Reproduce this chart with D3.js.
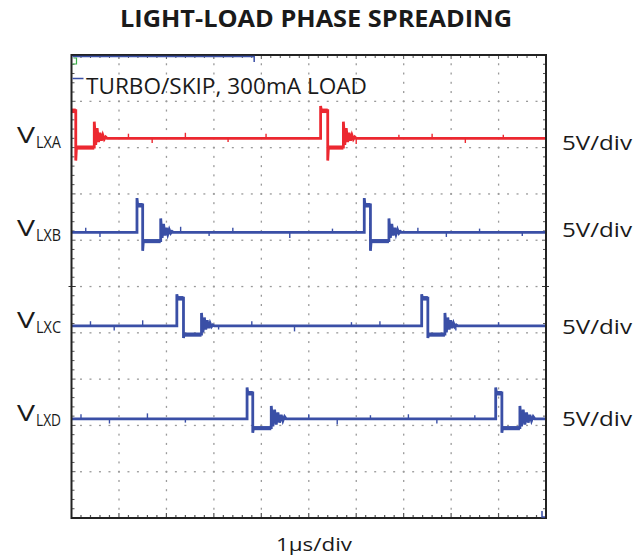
<!DOCTYPE html>
<html><head><meta charset="utf-8">
<script src="https://cdn.jsdelivr.net/npm/d3@7"></script>
<style>
html,body{margin:0;padding:0;background:#fff;}
svg{display:block;font-family:"Open Sans",sans-serif;}
</style></head>
<body><svg id="c" width="635" height="558"></svg>
<script>
// ---- data ----
const title = "LIGHT-LOAD PHASE SPREADING";
const note = "TURBO/SKIP, 300mA LOAD";
const xLabel = "1µs/div";
const channels = ["LXA", "LXB", "LXC", "LXD"];
const scaleLabels = ["5V/div", "5V/div", "5V/div", "5V/div"];
// channel ground offsets (divisions from screen centre)
const offsets = [3.20, 1.17, -0.85, -2.86];
// switching edges (µs)
const riseT = [[-0.07, 5.25], [1.38, 6.17], [2.22, 7.38], [3.70, 8.94]];
const fallT = [[0.09, 5.40], [1.50, 6.30], [2.36, 7.51], [3.82, 9.07]];
const lowEndT = [[0.48, 5.73], [1.88, 6.69], [2.74, 7.87], [4.21, 9.45]];
// levels (V)
const highV = [3.0, 2.95, 3.0, 2.8];
const highPeakV = [3.5, 3.7, 3.4, 3.4];
const lowV = [-0.95, -0.9, -0.9, -0.95];
const lowPeakV = [-2.4, -2.0, -1.3, -1.5];
const ringV = [[1.8, -0.7, 1.1, -0.4, 0.6, -0.25, 0.35, -0.1, 0.15, 0],
               [1.5, -0.6, 0.9, -0.35, 0.5, -0.2, 0.3, -0.1, 0.1, 0],
               [1.4, -0.7, 0.9, -0.4, 0.6, -0.25, 0.3, -0.1, 0.1, 0],
               [1.4, -0.8, 1.0, -0.6, 0.7, -0.4, 0.45, -0.2, 0.25, 0]];
const ringStep = [0.03, 0.03, 0.03, 0.035];
// small switching-noise glitches on the baseline (µs, V)
const glitchT = [[1.2, 1.7, 2.4, 3.3, 4.1, 6.0, 6.9, 7.6, 8.3, 9.1],
                 [0.3, 0.6, 2.3, 2.9, 3.4, 4.6, 5.5, 7.3, 7.9, 8.6, 9.5],
                 [0.4, 0.9, 1.5, 3.1, 3.8, 4.7, 5.9, 6.5, 8.1, 9.0],
                 [0.2, 0.8, 1.6, 2.4, 5.0, 5.6, 6.3, 7.1, 7.7, 8.5]];
const glitchV = [0.5, -0.5, 0.6, -0.4, 0.5, -0.6, 0.4, 0.5, -0.5, 0.4, -0.4];
const colors = ["#ec2830", "#3a4fa6", "#3a4fa6", "#3a4fa6"];
const timeDomain = [0, 10];
const divDomain = [-5, 5];
const voltsPerDiv = 5;

// ---- layout ----
const L = 71.5, R = 546, T = 55, B = 518;
const svg = d3.select("#c");
const x = d3.scaleLinear().domain(timeDomain).range([L, R]);
const y = d3.scaleLinear().domain(divDomain).range([B, T]);

// grid dots
const g = svg.append("g");
const xDiv = (R - L) / 10, yDivPx = (B - T) / 10;
for (let i = 1; i < 10; i++) {
  const gx = x(i);
  for (let k = 1; k < 50; k++) {
    const gy = T + k * yDivPx / 5;
    g.append("rect").attr("x", gx - 0.6).attr("y", gy - 1).attr("width", 1.3).attr("height", 2).attr("fill", "#9a9a9a");
  }
}
for (let j = 1; j < 10; j++) {
  const gy = y(j - 5);
  for (let k = 1; k < 50; k++) {
    const gx = L + k * xDiv / 5;
    g.append("rect").attr("x", gx - 1).attr("y", gy - 0.6).attr("width", 2).attr("height", 1.3).attr("fill", "#9a9a9a");
  }
}
// border ticks
for (let k = 1; k < 50; k++) {
  const tx = L + k * xDiv / 5, big = k % 5 === 0;
  g.append("line").attr("x1", tx).attr("x2", tx).attr("y1", T).attr("y2", T + (big ? 4 : 3)).attr("stroke", "#555").attr("stroke-width", 1);
  g.append("line").attr("x1", tx).attr("x2", tx).attr("y1", B).attr("y2", B - (big ? 5 : 3)).attr("stroke", "#555").attr("stroke-width", 1.2);
  const ty = T + k * yDivPx / 5;
  g.append("line").attr("x1", L).attr("x2", L + (big ? 4 : 3)).attr("y1", ty).attr("y2", ty).attr("stroke", "#555").attr("stroke-width", 1);
  g.append("line").attr("x1", R).attr("x2", R - (big ? 4 : 3)).attr("y1", ty).attr("y2", ty).attr("stroke", "#555").attr("stroke-width", 1);
}
// centre markers on sides
svg.append("line").attr("x1", L - 3).attr("x2", L + 4).attr("y1", y(0)).attr("y2", y(0)).attr("stroke", "#333");
svg.append("line").attr("x1", R - 4).attr("x2", R + 3).attr("y1", y(0)).attr("y2", y(0)).attr("stroke", "#333");

// clip
svg.append("clipPath").attr("id", "clip").append("rect").attr("x", L).attr("y", T).attr("width", R - L).attr("height", B - T);

// traces
const line = d3.line().x(d => x(d[0])).y(d => d[1]);
channels.forEach((ch, c) => {
  const yv = v => y(offsets[c] + v / voltsPerDiv);
  const pts = [[timeDomain[0] - 0.2, yv(0)]];
  riseT[c].forEach((r, i) => {
    const f = fallT[c][i], le = lowEndT[c][i];
    pts.push([r, yv(0)], [r, yv(highPeakV[c])], [r + 0.015, yv(highV[c])], [f, yv(highV[c])],
             [f, yv(lowPeakV[c])], [f + 0.015, yv(lowV[c])], [le, yv(lowV[c])]);
    ringV[c].forEach((rv, k) => pts.push([le + k * ringStep[c], yv(rv)]));
  });
  pts.push([timeDomain[1] + 0.2, yv(0)]);
  svg.append("path").attr("clip-path", "url(#clip)").attr("d", line(pts))
    .attr("fill", "none").attr("stroke", colors[c]).attr("stroke-width", 2.8).attr("stroke-linejoin", "miter");
  // plateau thickness
  riseT[c].forEach((r, i) => {
    const f = fallT[c][i], le = lowEndT[c][i];
    svg.append("rect").attr("clip-path", "url(#clip)").attr("x", x(r)).attr("y", yv(highV[c]) - 2)
      .attr("width", Math.max(0, x(f) - x(r))).attr("height", 4.5).attr("fill", colors[c]);
    svg.append("rect").attr("clip-path", "url(#clip)").attr("x", x(f)).attr("y", yv(lowV[c]) - 1.5)
      .attr("width", Math.max(0, x(le) - x(f))).attr("height", 4).attr("fill", colors[c]);
  });
  // glitches
  glitchT[c].forEach((t, k) => {
    svg.append("line").attr("x1", x(t)).attr("x2", x(t)).attr("y1", yv(0)).attr("y2", yv(glitchV[k]))
      .attr("stroke", colors[c]).attr("stroke-width", 1.4);
  });
});

// frame
svg.append("rect").attr("x", L).attr("y", T).attr("width", R - L).attr("height", B - T)
  .attr("fill", "none").attr("stroke", "#222").attr("stroke-width", 2);

// scope markers
svg.append("path").attr("d", `M${L + 1},${T + 1.5}H${x(3.85)}V${T + 7}`).attr("fill", "none").attr("stroke", "#3a4fa6").attr("stroke-width", 1.5);
svg.append("path").attr("d", `M${L + 1},${T + 9}H${L + 5}V${T + 3}H${L + 2}`).attr("fill", "none").attr("stroke", "#3cb04a").attr("stroke-width", 1.2);
svg.append("line").attr("x1", L + 1).attr("x2", L + 12).attr("y1", 78.5).attr("y2", 78.5).attr("stroke", "#3a4fa6").attr("stroke-width", 1.5);
svg.append("path").attr("d", `M${R - 4},${B - 7}V${B - 1}H${R - 1}`).attr("fill", "none").attr("stroke", "#3a4fa6").attr("stroke-width", 1.5);

// texts
const txt = "#1a1a1a";
svg.append("text").attr("x", 120).attr("y", 27).attr("textLength", 392).attr("lengthAdjust", "spacingAndGlyphs")
  .attr("font-size", 24).attr("font-weight", 700).attr("fill", txt).text(title);
svg.append("text").attr("x", 86).attr("y", 94).attr("textLength", 281).attr("lengthAdjust", "spacingAndGlyphs")
  .attr("font-size", 21.5).attr("fill", txt).text(note);
svg.append("text").attr("x", 276).attr("y", 551).attr("textLength", 76).attr("lengthAdjust", "spacingAndGlyphs")
  .attr("font-size", 19).attr("fill", txt).text(xLabel);
const vBase = [143, 235.5, 327.5, 421];
const rBase = [150, 236.5, 334, 426];
channels.forEach((ch, c) => {
  const t = svg.append("text").attr("x", 17).attr("y", vBase[c]).attr("fill", txt).attr("font-size", 22);
  t.append("tspan").attr("textLength", 18).attr("lengthAdjust", "spacingAndGlyphs").text("V");
  t.append("tspan").attr("font-size", 15.5).attr("dy", 5).attr("dx", 1).attr("textLength", 25).attr("lengthAdjust", "spacingAndGlyphs").text(ch);
  svg.append("text").attr("x", 562).attr("y", rBase[c]).attr("fill", txt).attr("font-size", 20)
    .attr("textLength", 70).attr("lengthAdjust", "spacingAndGlyphs").text(scaleLabels[c]);
});
</script></body></html>
